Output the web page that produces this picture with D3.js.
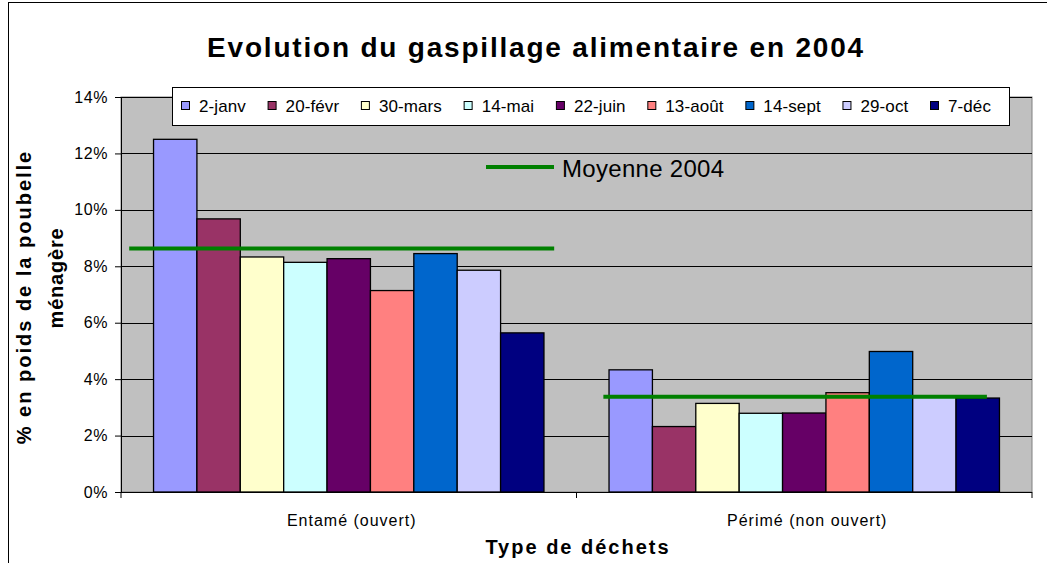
<!DOCTYPE html>
<html>
<head>
<meta charset="utf-8">
<script src="https://cdn.jsdelivr.net/npm/d3@7"></script>
<style>
  body { margin: 0; background: #fff; }
  text { font-family: "Liberation Sans", Arial, sans-serif; fill: #000; }
</style>
</head>
<body>
<div class="chart"></div>
<script>
// data
var categories = ["Entamé (ouvert)", "Périmé (non ouvert)"];
var dates = ["2-janv", "20-févr", "30-mars", "14-mai", "22-juin", "13-août", "14-sept", "29-oct", "7-déc"];
var entame = [0.125, 0.0968, 0.0833, 0.0814, 0.0827, 0.0714, 0.0845, 0.0786, 0.0564];
var perime = [0.0433, 0.0232, 0.0314, 0.0279, 0.0280, 0.0352, 0.0498, 0.0340, 0.0333];
var moyenne = [0.0863, 0.0338];
var colors = ["#9999FF", "#993366", "#FFFFCC", "#CCFFFF", "#660066", "#FF8080", "#0066CC", "#CCCCFF", "#000080"];
var yTicks = [0, 0.02, 0.04, 0.06, 0.08, 0.10, 0.12, 0.14];

var W = 1047, H = 563;
var plot = {left: 121, right: 1032, top: 97, bottom: 492};

var svg = d3.select(".chart").append("svg")
    .attr("width", W)
    .attr("height", H);

// chart area frame
svg.append("rect")
    .attr("x", 8.5).attr("y", 2.5)
    .attr("width", W + 20).attr("height", H + 20)
    .attr("fill", "#fff").attr("stroke", "#000").attr("stroke-width", 1);

// ------------------------------------------------------------------
// scales
var x0 = d3.scaleBand()
    .domain(categories)
    .range([plot.left, plot.right])
    .padding(0);
var x1 = d3.scaleBand()
    .domain(dates)
    .range([0, x0.bandwidth()])
    .paddingInner(0)
    .paddingOuter(0.75);
var y = d3.scaleLinear()
    .domain([0, 0.14])
    .range([plot.bottom, plot.top]);
var color = d3.scaleOrdinal().domain(dates).range(colors);

var rows = categories.map(function(c, i) {
  return {cat: c, values: dates.map(function(d, j) {
    return {date: d, v: (i === 0 ? entame : perime)[j]};
  })};
});

// plot area
svg.append("rect")
    .attr("x", plot.left).attr("y", plot.top)
    .attr("width", plot.right - plot.left).attr("height", plot.bottom - plot.top)
    .attr("fill", "#C0C0C0").attr("stroke", "#808080");

// gridlines
svg.append("g").selectAll("line")
    .data(yTicks.slice(1))
    .enter().append("line")
      .attr("x1", plot.left).attr("x2", plot.right)
      .attr("y1", function(d) { return Math.round(y(d)) + 0.5; })
      .attr("y2", function(d) { return Math.round(y(d)) + 0.5; })
      .attr("stroke", "#000").attr("stroke-width", 1);

// bars
var groups = svg.append("g").selectAll("g")
    .data(rows)
    .enter().append("g")
      .attr("transform", function(d) { return "translate(" + x0(d.cat) + ",0)"; });
groups.selectAll("rect")
    .data(function(d) { return d.values; })
    .enter().append("rect")
      .attr("x", function(d) { return x1(d.date); })
      .attr("width", x1.bandwidth())
      .attr("y", function(d) { return y(d.v); })
      .attr("height", function(d) { return y(0) - y(d.v); })
      .attr("fill", function(d) { return color(d.date); })
      .attr("stroke", "#000").attr("stroke-width", 1.3);

// average lines (drawn shapes, spans as fraction of the category band)
var avgSpan = [[0.018, 0.951], [0.059, 0.901]];
svg.append("g").selectAll("line")
    .data(moyenne)
    .enter().append("line")
      .attr("x1", function(d, i) { return x0(categories[i]) + avgSpan[i][0] * x0.bandwidth(); })
      .attr("x2", function(d, i) { return x0(categories[i]) + avgSpan[i][1] * x0.bandwidth(); })
      .attr("y1", function(d) { return y(d); })
      .attr("y2", function(d) { return y(d); })
      .attr("stroke", "#008000").attr("stroke-width", 4);

// "Moyenne 2004" label
svg.append("line")
    .attr("x1", 486).attr("x2", 554).attr("y1", 167).attr("y2", 167)
    .attr("stroke", "#008000").attr("stroke-width", 4);
svg.append("text")
    .attr("x", 562).attr("y", 177)
    .style("font-size", "24px").style("letter-spacing", "0.3px")
    .text("Moyenne 2004");

// ------------------------------------------------------------------
// axes
var yAxis = svg.append("g")
    .attr("transform", "translate(" + plot.left + ",0)")
    .call(d3.axisLeft(y).tickValues(yTicks).tickFormat(d3.format(".0%")).tickSize(6).tickPadding(7));
yAxis.select(".domain").attr("stroke", "#000");
yAxis.selectAll("text")
    .style("font-size", "16px").style("letter-spacing", "0.6px")
    .style("font-family", "'Liberation Sans', Arial, sans-serif");

var xAxis = svg.append("g")
    .attr("transform", "translate(0," + plot.bottom + ")");
xAxis.append("line")
    .attr("x1", plot.left).attr("x2", plot.right).attr("y1", 0.5).attr("y2", 0.5)
    .attr("stroke", "#000");
xAxis.selectAll(".tk")
    .data([plot.left, x0(categories[1]), plot.right])
    .enter().append("line")
      .attr("x1", function(d) { return d; }).attr("x2", function(d) { return d; })
      .attr("y1", 0).attr("y2", 6)
      .attr("stroke", "#000");
xAxis.selectAll(".cat")
    .data(categories)
    .enter().append("text")
      .attr("x", function(d) { return x0(d) + x0.bandwidth() / 2 + 3; })
      .attr("y", 34)
      .attr("text-anchor", "middle")
      .style("font-size", "16px").style("letter-spacing", "1px")
      .text(function(d) { return d; });

// titles
svg.append("text")
    .attr("x", 536).attr("y", 57)
    .attr("text-anchor", "middle")
    .style("font-size", "28px").style("font-weight", "bold").style("letter-spacing", "1.8px")
    .text("Evolution du gaspillage alimentaire en 2004");

svg.append("text")
    .attr("x", 578).attr("y", 554)
    .attr("text-anchor", "middle")
    .style("font-size", "20px").style("font-weight", "bold").style("letter-spacing", "2px")
    .text("Type de déchets");

svg.append("text")
    .attr("transform", "translate(31,297) rotate(-90)")
    .attr("text-anchor", "middle")
    .style("font-size", "20px").style("font-weight", "bold").style("letter-spacing", "2px")
    .text("% en poids de la poubelle");
svg.append("text")
    .attr("transform", "translate(63,278) rotate(-90)")
    .attr("text-anchor", "middle")
    .style("font-size", "20px").style("font-weight", "bold").style("letter-spacing", "0.8px")
    .text("ménagère");

// ------------------------------------------------------------------
// legend
var legend = svg.append("g");
legend.append("rect")
    .attr("x", 172.5).attr("y", 87.5).attr("width", 837).attr("height", 38)
    .attr("fill", "#fff").attr("stroke", "#000");

var items = legend.selectAll(".item")
    .data(dates)
    .enter().append("g").attr("class", "item");
items.append("rect")
    .attr("width", 8).attr("height", 8)
    .attr("y", 101.5)
    .attr("fill", function(d) { return color(d); })
    .attr("stroke", "#000");
items.append("text")
    .attr("y", 111.5)
    .style("font-size", "17px").style("letter-spacing", "0.1px")
    .text(function(d) { return d; });

// spread the items between the first and last swatch positions
var widths = [];
items.select("text").each(function() { widths.push(this.getComputedTextLength()); });
var firstX = 181, lastX = 930;
var sum = d3.sum(widths.slice(0, -1)) + 18 * (dates.length - 1);
var gap = (lastX - firstX - sum) / (dates.length - 1);
var cx = firstX;
items.each(function(d, i) {
  var g = d3.select(this);
  g.select("rect").attr("x", cx + 0.5);
  g.select("text").attr("x", cx + 18);
  cx += 18 + widths[i] + gap;
});
</script>
</body>
</html>
